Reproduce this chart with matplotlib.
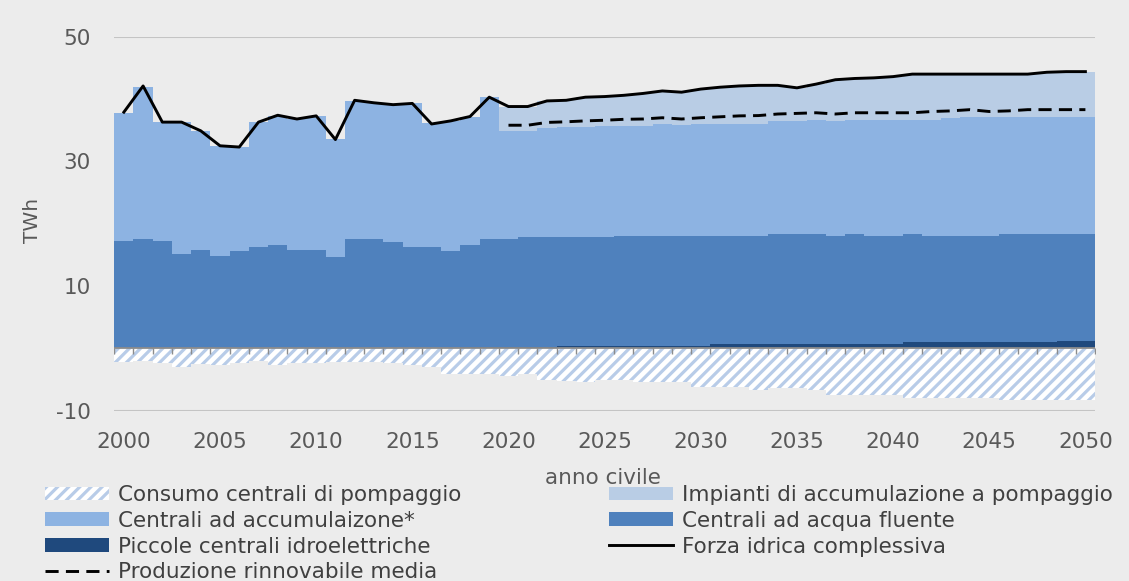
import numpy as np
import matplotlib

matplotlib.use("Agg")
import matplotlib.pyplot as plt
from matplotlib.patches import Patch
from matplotlib.lines import Line2D
from matplotlib.markers import TICKDOWN

# ── data (TWh) ───────────────────────────────────────────────────────────────
years = np.arange(2000, 2051)

small_hydro = np.array(
    [0.0] * 18 + [0.15] * 5 + [0.4] * 8 + [0.7] * 10 + [1.05] * 8 + [1.25] * 2
)

run_of_river = np.array([
    17.3, 17.6, 17.3, 15.1, 15.8, 14.9, 15.6, 16.3, 16.6, 15.8,
    15.8, 14.6, 17.6, 17.6, 17.1, 16.3, 16.3, 15.6, 16.45, 17.45,
    17.45, 17.65, 17.65, 17.4, 17.4, 17.45, 17.7, 17.7, 17.7, 17.7,
    17.7, 17.4, 17.4, 17.4, 17.65, 17.65, 17.65, 17.4, 17.65, 17.4,
    17.4, 17.3, 17.05, 17.05, 17.05, 17.05, 17.3, 17.3, 17.3, 17.1,
    17.1,
])

storage = np.array([
    20.5, 24.4, 19.0, 21.2, 19.0, 17.6, 16.7, 20.0, 20.7, 21.0,
    21.5, 19.0, 22.1, 21.8, 22.1, 23.0, 19.8, 20.8, 20.6, 22.7,
    17.3, 17.1, 17.5, 17.7, 17.7, 17.75, 17.6, 17.6, 17.9, 17.7,
    17.9, 17.9, 17.9, 17.9, 18.15, 18.15, 18.35, 18.4, 18.35, 18.6,
    18.6, 18.35, 18.6, 18.9, 19.1, 19.0, 18.75, 18.75, 18.85, 18.85,
    18.85,
])

pumped_storage = np.array([0.0] * 20 + [
    3.9, 3.9, 4.4, 4.3, 4.8, 4.8, 4.9, 5.2, 5.3, 5.3,
    5.6, 5.9, 6.1, 6.2, 5.7, 5.3, 5.7, 6.6, 6.6, 6.7,
    6.9, 7.3, 7.3, 7.0, 6.8, 6.9, 6.9, 6.9, 7.1, 7.2,
    7.2,
])

pump_consumption = np.array([
    -2.15, -2.05, -2.4, -2.95, -2.55, -2.7, -2.4, -2.05, -2.7, -2.4,
    -2.4, -2.25, -2.15, -2.15, -2.4, -2.7, -2.95, -4.15, -4.15, -4.15,
    -4.4, -4.15, -5.1, -5.2, -5.35, -5.0, -5.0, -5.4, -5.4, -5.4,
    -6.15, -6.15, -6.15, -6.7, -6.4, -6.4, -6.7, -7.5, -7.5, -7.5,
    -7.5, -8.0, -8.0, -8.0, -8.0, -8.0, -8.3, -8.3, -8.3, -8.3,
    -8.3,
])

total_hydro = np.array([
    37.9, 42.1, 36.3, 36.3, 34.9, 32.5, 32.3, 36.3, 37.4, 36.8,
    37.3, 33.5, 39.8, 39.4, 39.1, 39.3, 36.0, 36.5, 37.2, 40.3,
    38.8, 38.8, 39.7, 39.8, 40.3, 40.4, 40.6, 40.9, 41.3, 41.1,
    41.6, 41.9, 42.1, 42.2, 42.2, 41.8, 42.4, 43.1, 43.3, 43.4,
    43.6, 44.0, 44.0, 44.0, 44.0, 44.0, 44.0, 44.0, 44.3, 44.4,
    44.4,
])

mean_years = np.arange(2020, 2051)
mean_production = np.array([
    35.8, 35.8, 36.25, 36.35, 36.5, 36.6, 36.75, 36.8, 37.0, 36.8,
    37.0, 37.15, 37.3, 37.35, 37.6, 37.7, 37.8, 37.6, 37.8, 37.8,
    37.8, 37.8, 38.0, 38.1, 38.3, 38.0, 38.1, 38.3, 38.3, 38.3,
    38.3,
])

yticks = [-10, 10, 30, 50]
xticks = np.arange(2000, 2051, 5)

# ── style ────────────────────────────────────────────────────────────────────
BG = "#ececec"
C_PUMPED = "#b9cde5"
C_STORAGE = "#8db3e2"
C_ROR = "#4f81bd"
C_SMALL = "#1f497d"
C_HATCH = "#b8cce8"
TXT = "#595959"
DASH = (0, (4.5, 2.5))
HATCH = "///"

plt.rcParams["font.family"] = ["DejaVu Sans"]
plt.rcParams["axes.unicode_minus"] = False
plt.rcParams["hatch.linewidth"] = 2.3

fig = plt.figure(figsize=(11.29, 5.81), dpi=100, facecolor=BG)
ax = fig.add_axes([0.1012, 0.2931, 0.8687, 0.6437], facecolor=BG)

edges = np.append(years - 0.5, years[-1] + 0.5)

# stacked columns (gap width 0) drawn as stairs
b0 = np.zeros(len(years))
b1 = b0 + small_hydro
b2 = b1 + run_of_river
b3 = b2 + storage
b4 = b3 + pumped_storage
ax.stairs(b1, edges, baseline=b0, fill=True, color=C_SMALL, zorder=2)
ax.stairs(b2, edges, baseline=b1, fill=True, color=C_ROR, zorder=2)
ax.stairs(b3, edges, baseline=b2, fill=True, color=C_STORAGE, zorder=2)
ax.stairs(b4, edges, baseline=b3, fill=True, color=C_PUMPED, zorder=2)

ax.stairs(pump_consumption, edges, baseline=0, fill=True,
          facecolor="white", edgecolor=C_HATCH, hatch=HATCH, lw=0, zorder=2)

# category axis at zero with tick marks between categories
ax.axhline(0, color="#8c8c8c", lw=1.3, zorder=3)
ax.plot(edges, np.zeros(len(edges)), ls="none", marker=TICKDOWN, ms=4.5,
        mew=1.0, color="#8c8c8c", zorder=3)

ax.plot(years, total_hydro, color="black", lw=2.1, zorder=4)
ax.plot(mean_years, mean_production, color="black", lw=2.1, ls=DASH, zorder=4)

ax.set_xlim(edges[0], edges[-1])
ax.set_ylim(yticks[0], yticks[-1])
ax.set_yticks(yticks)
ax.set_xticks(xticks)
ax.yaxis.grid(True, color="#c4c4c4", lw=1.5, zorder=0)
ax.set_axisbelow(True)
for s in ax.spines.values():
    s.set_visible(False)
ax.tick_params(axis="y", length=0, pad=17, labelsize=15.5, labelcolor=TXT)
ax.tick_params(axis="x", length=0, pad=15, labelsize=15.5, labelcolor=TXT)

ax.set_ylabel("TWh", fontsize=14.5, color=TXT)
ax.yaxis.set_label_coords(-0.074, 0.51)
fig.text(603 / 1129, 1 - 478 / 581, "anno civile", ha="center", va="center",
         fontsize=15.5, color=TXT)

handles = [
    Patch(facecolor="white", edgecolor=C_HATCH, hatch=HATCH, lw=0),
    Patch(facecolor=C_STORAGE),
    Patch(facecolor=C_SMALL),
    Line2D([], [], color="black", lw=2.1, ls=DASH),
    Patch(facecolor=C_PUMPED),
    Patch(facecolor=C_ROR),
    Line2D([], [], color="black", lw=2.1),
]
labels = [
    "Consumo centrali di pompaggio",
    "Centrali ad accumulaizone*",
    "Piccole centrali idroelettriche",
    "Produzione rinnovabile media",
    "Impianti di accumulazione a pompaggio",
    "Centrali ad acqua fluente",
    "Forza idrica complessiva",
]
leg = fig.legend(handles, labels, ncol=2, loc="upper left",
                 bbox_to_anchor=(45 / 1129, 1 - 485 / 581), frameon=False,
                 fontsize=15.5, handlelength=2.95, handleheight=0.6,
                 handletextpad=0.42, columnspacing=6.9, labelspacing=0.27,
                 borderpad=0, borderaxespad=0)
for t in leg.get_texts():
    t.set_color("#404040")

fig.savefig("out.png", dpi=100, facecolor=BG)
